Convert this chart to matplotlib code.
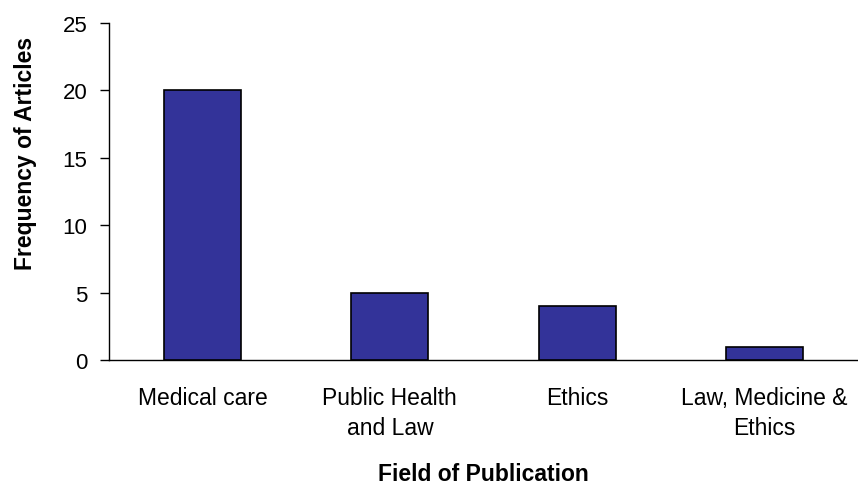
import matplotlib
matplotlib.use("Agg")
import matplotlib.pyplot as plt

fields = ["Medical care", "Public Health\nand Law", "Ethics", "Law, Medicine &\nEthics"]
frequencies = [20, 5, 4, 1]
y_ticks = [0, 5, 10, 15, 20, 25]

plt.rcParams["font.family"] = ["Liberation Sans", "DejaVu Sans"]

fig = plt.figure(figsize=(8.58, 4.85), dpi=100)
ax = fig.add_axes([109 / 858, 1 - 361 / 485, 1 - 109 / 858, (361 - 24) / 485])

x = range(len(fields))
ax.bar(x, frequencies, width=0.41, color="#333399", edgecolor="black", linewidth=1.2, zorder=3)

ax.set_xlim(-0.5, len(fields) - 0.5)
ax.set_ylim(0, 25)
ax.set_yticks(y_ticks)
ax.set_xticks(list(x))
ax.set_xticklabels(fields, fontsize=16.5, linespacing=1.38)
ax.tick_params(axis="x", length=0, pad=19)
ax.tick_params(axis="y", length=6.5, width=1, labelsize=16, pad=9)

for side in ["top", "right"]:
    ax.spines[side].set_visible(False)
ax.spines["left"].set_linewidth(1)
ax.spines["bottom"].set_linewidth(1)

ax.set_ylabel("Frequency of Articles", fontsize=16.5, fontweight="bold")
ax.yaxis.set_label_coords(-0.096, 0.617)
ax.set_xlabel("Field of Publication", fontsize=16.5, fontweight="bold")
ax.xaxis.set_label_coords(0.5, -0.303)

fig.savefig("out.png", dpi=100)
